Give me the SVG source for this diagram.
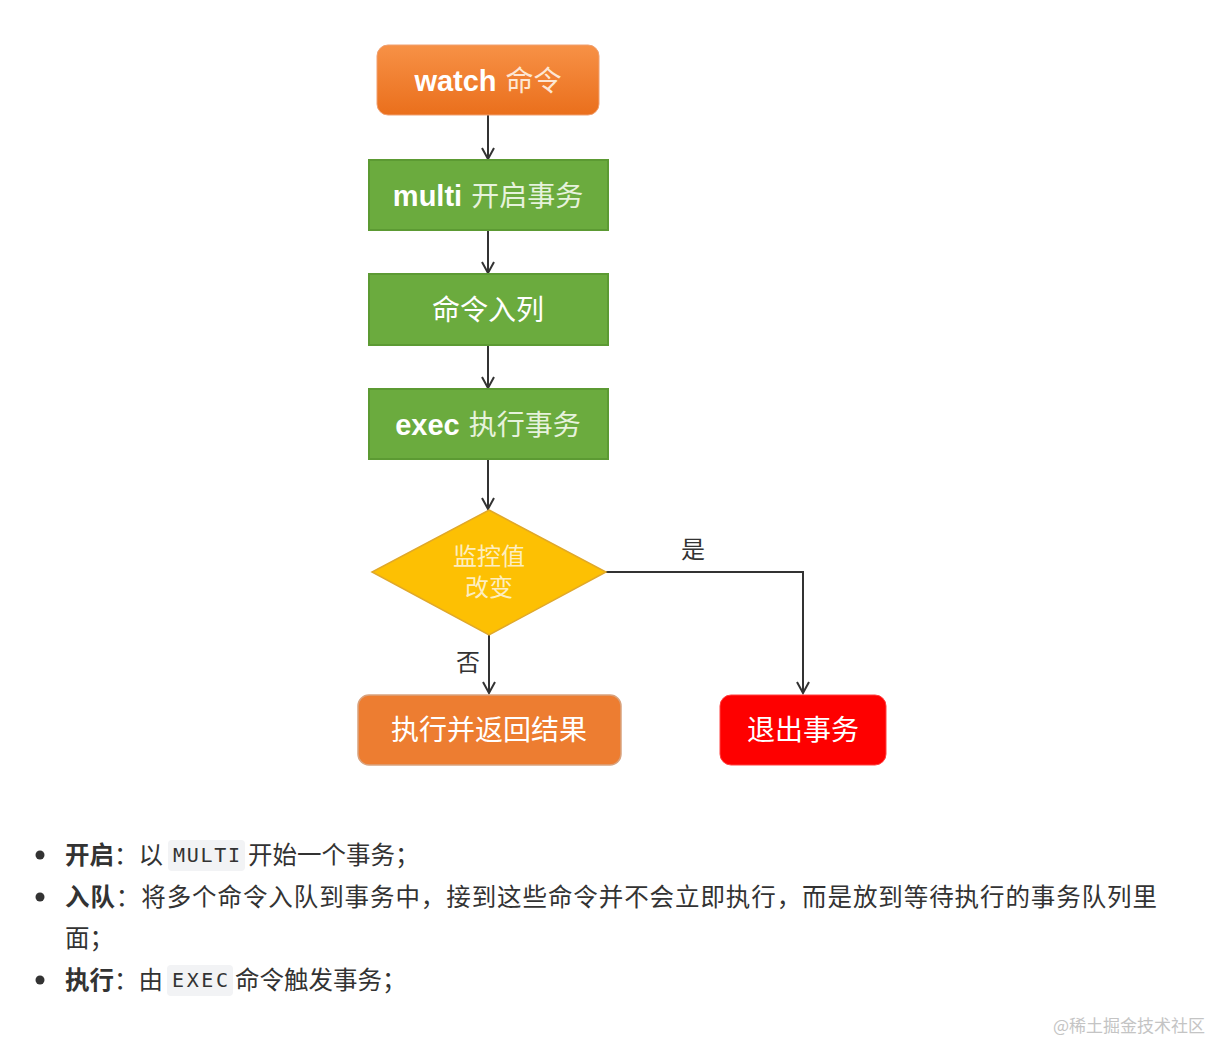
<svg xmlns="http://www.w3.org/2000/svg" width="1212" height="1042" viewBox="0 0 1212 1042">
<style>
.cn{font-family:"Liberation Serif","Noto Sans CJK SC",serif;font-weight:normal;}
.lat{font-family:"Liberation Sans","Noto Sans CJK SC",sans-serif;font-weight:bold;font-size:29px;}
.node-t{fill:#ffffff;font-size:28px;text-anchor:middle;}
.green{fill:#6bab3e;stroke:#5c9a33;stroke-width:2;}
.conn{stroke:#333;stroke-width:2;fill:none;}
.lbl{font-family:"Liberation Serif","Noto Sans CJK SC",serif;font-size:24px;fill:#333;}
.body{font-family:"Noto Sans CJK SC",sans-serif;font-size:24.5px;fill:#333;}
.code{font-family:"DejaVu Sans Mono",monospace;font-size:20px;fill:#333;}
.codebg{fill:#f2f3f5;}
</style>
<defs>
<linearGradient id="og" x1="0" y1="0" x2="0" y2="1">
<stop offset="0" stop-color="#f79146"/>
<stop offset="1" stop-color="#ea6f1c"/>
</linearGradient>
<marker id="arr" viewBox="0 0 14 14" refX="12" refY="7" markerWidth="14" markerHeight="14" markerUnits="userSpaceOnUse" orient="auto">
<path d="M1,1 L12,7 L1,13" fill="none" stroke="#333" stroke-width="2"/>
</marker>
</defs>
<rect width="1212" height="1042" fill="#ffffff"/>

<g id="connectors">
<line class="conn" x1="488" y1="115" x2="488" y2="159" marker-end="url(#arr)"/>
<line class="conn" x1="488" y1="230" x2="488" y2="273" marker-end="url(#arr)"/>
<line class="conn" x1="488" y1="345" x2="488" y2="388" marker-end="url(#arr)"/>
<line class="conn" x1="488" y1="459" x2="488" y2="509" marker-end="url(#arr)"/>
<polyline class="conn" points="606,572 803,572 803,693" marker-end="url(#arr)"/>
<line class="conn" x1="489" y1="635" x2="489" y2="693" marker-end="url(#arr)"/>
<text class="lbl" x="693" y="558" text-anchor="middle">是</text>
<text class="lbl" x="468" y="671" text-anchor="middle">否</text>
</g>

<g id="watch">
<rect x="377" y="45" width="222" height="70" rx="11" fill="url(#og)" stroke="#f0a070" stroke-width="1"/>
<text class="node-t" x="488" y="91"><tspan class="lat">watch</tspan><tspan class="cn" dx="9" fill="#fde7d4">命令</tspan></text>
</g>

<g id="multi">
<rect class="green" x="369" y="160" width="239" height="70"/>
<text class="node-t" x="488" y="206"><tspan class="lat">multi</tspan><tspan class="cn" dx="9" fill="#e6f2dc">开启事务</tspan></text>
</g>

<g id="enqueue">
<rect class="green" x="369" y="274" width="239" height="71"/>
<text class="node-t cn" x="488" y="320" fill="#e6f2dc">命令入列</text>
</g>

<g id="exec">
<rect class="green" x="369" y="389" width="239" height="70"/>
<text class="node-t" x="488" y="435"><tspan class="lat">exec</tspan><tspan class="cn" dx="9" fill="#e6f2dc">执行事务</tspan></text>
</g>

<g id="decision">
<polygon points="489,510 606,572 489,635 372,572" fill="#fdc003" stroke="#e0a82a" stroke-width="1.5"/>
<text class="cn" x="489" y="565" font-size="24" fill="#fdeec0" text-anchor="middle">监控值</text>
<text class="cn" x="489" y="596" font-size="24" fill="#fdeec0" text-anchor="middle">改变</text>
</g>

<g id="result">
<rect x="358" y="695" width="263" height="70" rx="11" fill="#ed7d31" stroke="#d9a27d" stroke-width="1.5"/>
<text class="node-t cn" x="489" y="740" fill="#fce6d6" font-size="29">执行并返回结果</text>
</g>

<g id="quit">
<rect x="720" y="695" width="166" height="70" rx="11" fill="#fe0000" stroke="#ff4040" stroke-width="1"/>
<text class="node-t cn" x="803" y="740" fill="#ffe0e0" font-size="29">退出事务</text>
</g>

<g id="notes">
<circle cx="40" cy="855" r="4.5" fill="#333"/>
<circle cx="40" cy="897" r="4.5" fill="#333"/>
<circle cx="40" cy="980" r="4.5" fill="#333"/>
<rect class="codebg" x="168" y="840" width="77" height="31" rx="4"/>
<rect class="codebg" x="167" y="965" width="66" height="31" rx="4"/>
<text class="body" x="65" y="864"><tspan font-weight="bold">开启</tspan>：以</text>
<text class="code" x="173" y="862" textLength="67" lengthAdjust="spacing">MULTI</text>
<text class="body" x="248" y="864">开始一个事务；</text>
<text class="body" x="65" y="906" textLength="1092" lengthAdjust="spacing"><tspan font-weight="bold">入队</tspan>：将多个命令入队到事务中，接到这些命令并不会立即执行，而是放到等待执行的事务队列里</text>
<text class="body" x="65" y="947">面；</text>
<text class="body" x="65" y="989"><tspan font-weight="bold">执行</tspan>：由</text>
<text class="code" x="172" y="987" textLength="56" lengthAdjust="spacing">EXEC</text>
<text class="body" x="235" y="989">命令触发事务；</text>
</g>

<text x="1205" y="1032" text-anchor="end" font-family="Noto Sans CJK SC, sans-serif" font-size="17" fill="#c4c4c4">@稀土掘金技术社区</text>
</svg>
